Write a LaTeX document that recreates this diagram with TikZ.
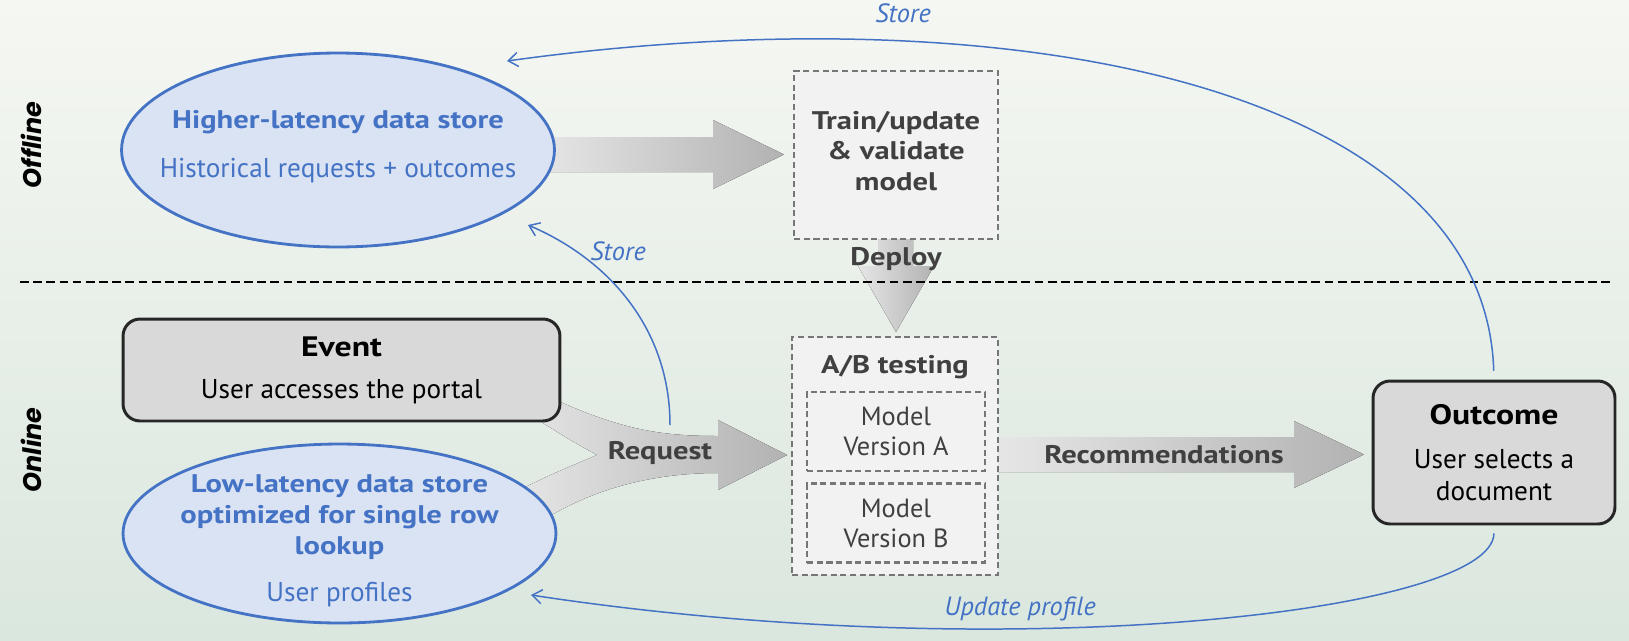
\documentclass[tikz,border=0pt]{standalone}
\usepackage{fontspec}
\setmainfont{PT Sans}[BoldFeatures={FakeStretch=1.2}]
\newfontfamily\sidefont{Poppins}
\usetikzlibrary{arrows,arrows.meta}
\usetikzlibrary{backgrounds,calc,shapes}

\definecolor{accent}{HTML}{4472C4}
\definecolor{storefill}{HTML}{DAE3F3}
\definecolor{boxfill}{HTML}{D9D9D9}
\definecolor{stagefill}{HTML}{F2F2F2}
\definecolor{stageline}{HTML}{767676}
\definecolor{darktext}{HTML}{404040}
\definecolor{bgtop}{RGB}{245,247,242}
\definecolor{bgbot}{RGB}{218,231,222}
\definecolor{fatlo}{RGB}{230,230,230}
\definecolor{fathi}{RGB}{178,178,178}

\newcommand{\bodyfont}{\fontsize{15.5}{18}\selectfont}
\newcommand{\headfont}{\fontsize{14.5}{17.5}\selectfont\bfseries}

\tikzset{
    store/.style={ellipse, draw=accent, line width=1.6pt, fill=storefill, inner sep=0pt},
    storetext/.style={text=accent, align=center, font=\bodyfont},
    event/.style={rectangle, rounded corners=0.34cm, draw=black!85, line width=1.7pt, fill=boxfill, align=center, font=\bodyfont},
    stage/.style={rectangle, draw=stageline, dash pattern=on 3.5pt off 2pt, line width=1.4pt, fill=stagefill, align=center, text=darktext, font=\bodyfont},
    fat/.style={left color=fatlo, right color=fathi, draw=none},
    flowlabel/.style={text=darktext, align=center, font=\headfont},
    feedback/.style={draw=accent, line width=0.85pt, -{Straight Barb[length=5.5pt,width=8pt]}},
    feedlabel/.style={text=accent, font=\fontsize{15}{18}\selectfont\itshape},
    side/.style={rotate=90, font=\sidefont\fontsize{14.5}{17}\selectfont\bfseries\itshape}
}

\begin{document}
\begin{tikzpicture}[x=0.02cm, y=-0.02cm]
    \useasboundingbox (0,0) rectangle (1629,640);
    \shade[top color=bgtop, bottom color=bgbot] (0,0) rectangle (1629,640);

    % fat arrows go first, the nodes hide their tails
    \fill[fat] (540,137) -- (713,137) -- (713,120) -- (784,154.5) -- (713,189) -- (713,172) -- (540,172) -- cycle;
    \fill[fat] (998,437) -- (1294,437) -- (1294,421) -- (1364,454.5) -- (1294,488) -- (1294,472) -- (998,472) -- cycle;
    \fill[fat] (878,236) -- (913,236) -- (913,266) -- (934,266) -- (896,332) -- (858,266) -- (878,266) -- cycle;
    \fill[fat] (545,395) .. controls (620,430) and (660,436) .. (718,436) -- (718,420) -- (787,455) -- (718,490) -- (718,473)
        .. controls (650,473) and (590,490) .. (540,522) -- (515,492) .. controls (550,475) .. (597,455)
        .. controls (570,440) .. (535,418) -- cycle;

    \node[side] (offline) at (31,145) {Offline};
    \node[side] (online) at (31,450) {Online};
    \draw[dash pattern=on 5pt off 2.5pt, line width=0.6pt] (20,282) -- (1613,282);

    \node[store, minimum width=8.66cm, minimum height=3.88cm] (hist) at (338,150) {};
    \node[storetext, font=\headfont] (histtitle) at (338,122) {Higher-latency data store};
    \node[storetext] (histsub) at (338,171) {Historical requests + outcomes};

    \node[stage, minimum width=4.08cm, minimum height=3.36cm] (train) at (896,155) {};
    \node[flowlabel] (traintext) at (896,151) {Train/update\\ \& validate\\ model};
    \node[flowlabel] (deploy) at (896,259) {Deploy};

    \node[event, minimum width=8.74cm, minimum height=2.04cm] (event) at (341.5,370) {{\fontsize{16}{18}\selectfont\bfseries Event}\\[6pt] User accesses the portal};

    \node[store, minimum width=8.66cm, minimum height=3.58cm] (live) at (339.5,533.5) {};
    \node[storetext, font=\headfont] (livetitle) at (339.5,517) {Low-latency data store\\ optimized for single row\\ lookup};
    \node[storetext] (livesub) at (339.5,595) {User profiles};

    \node[flowlabel] (request) at (660,453) {Request};

    \node[stage, minimum width=4.12cm, minimum height=4.76cm] (ab) at (895,456) {};
    \node[flowlabel] (abtitle) at (895,367) {A/B testing};
    \node[stage, minimum width=3.56cm, minimum height=1.58cm, font=\fontsize{15}{17}\selectfont] (modela) at (896,431.5) {Model\\ Version A};
    \node[stage, minimum width=3.56cm, minimum height=1.58cm, font=\fontsize{15}{17}\selectfont] (modelb) at (896,523) {Model\\ Version B};

    \node[flowlabel] (recs) at (1164,455) {Recommendations};

    \node[event, minimum width=4.84cm, minimum height=2.86cm] (outcome) at (1494,452.5) {{\fontsize{16}{18}\selectfont\bfseries Outcome}\\[7pt] User selects a\\ document};

    \coordinate (histin) at ([shift={(169,-89)}]hist.center);
    \coordinate (histlow) at ([shift={(190,75)}]hist.center);
    \coordinate (livein) at ([shift={(191.5,61.5)}]live.center);
    \coordinate (reqtop) at ([shift={(10,-28)}]request.center);

    \draw[feedback, shorten <=5pt] (outcome.north) .. controls (1485,90) and (1020,-10) .. (histin);
    \draw[feedback] (reqtop) .. controls (670,330) and (610,260) .. (histlow);
    \draw[feedback, shorten <=4.5pt] (outcome.south) .. controls (1493,612) and (1010,668) .. (livein);

    \node[feedlabel] (storetop) at (903,13) {Store};
    \node[feedlabel] (storelow) at (618,251) {Store};
    \node[feedlabel] (updlabel) at (1020,609) {Update profile};
\end{tikzpicture}
\end{document}
